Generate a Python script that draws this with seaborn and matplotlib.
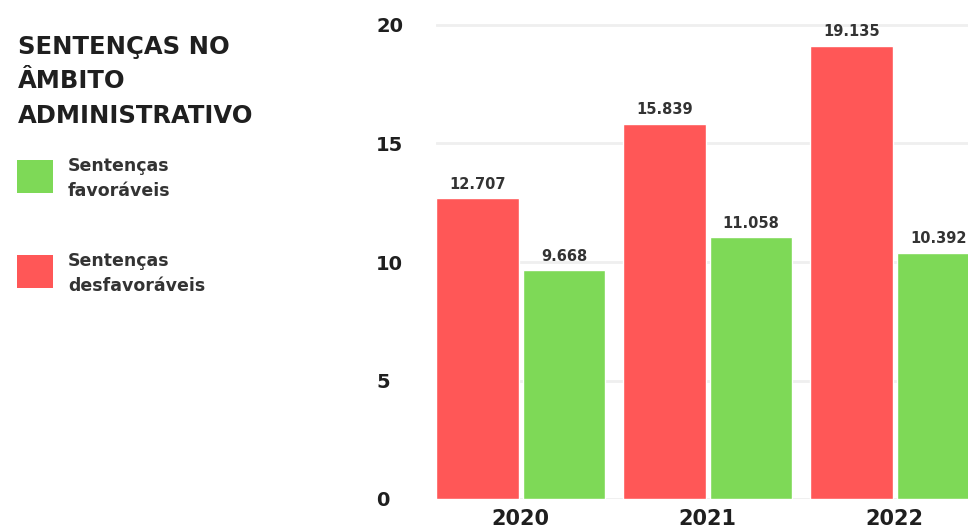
import matplotlib
matplotlib.use("Agg")
import matplotlib.pyplot as plt
from matplotlib.patches import Rectangle
import seaborn as sns
import pandas as pd

# Data (thousands of rulings per year)
anos = ["2020", "2021", "2022"]
desfavoraveis = [12.707, 15.839, 19.135]
favoraveis = [9.668, 11.058, 10.392]
serie_desfav = "Sentenças desfavoráveis"
serie_fav = "Sentenças favoráveis"
yticks = [0, 5, 10, 15, 20]

COR_VERMELHO = "#FF5757"
COR_VERDE = "#7ED957"
TEXTO = "#1f1f1f"

df = pd.DataFrame({
    "ano": anos * 2,
    "valor": desfavoraveis + favoraveis,
    "tipo": [serie_desfav] * len(anos) + [serie_fav] * len(anos),
})

sns.set_theme(style="white")
plt.rcParams["font.family"] = ["DejaVu Sans"]

W, H = 968, 528
fig = plt.figure(figsize=(W / 100, H / 100), dpi=100)
fig.patch.set_facecolor("white")

# Plot area runs past the right edge of the canvas
ax_left, ax_bottom = 436, 499
px_per_unit_y = 23.7
ymax = 20.4
px_per_unit_x = 187
xmin, xmax = -0.453, 2.453
ax = fig.add_axes([ax_left / W, (H - ax_bottom) / H,
                   (xmax - xmin) * px_per_unit_x / W,
                   ymax * px_per_unit_y / H])

sns.barplot(data=df, x="ano", y="valor", hue="tipo",
            hue_order=[serie_desfav, serie_fav],
            palette=[COR_VERMELHO, COR_VERDE], saturation=1,
            width=0.93, gap=0.05, legend=False, ax=ax, zorder=3)

for cont, vals in zip(ax.containers, [desfavoraveis, favoraveis]):
    ax.bar_label(cont, labels=[f"{v:.3f}" for v in vals], padding=4.5,
                 fontsize=10.5, fontweight="bold", color="#333333", zorder=4)

ax.set_xlim(xmin, xmax)
ax.set_ylim(0, ymax)
ax.set_yticks(yticks)
ax.set_yticklabels([str(t) for t in yticks], fontsize=14, fontweight="bold",
                   color=TEXTO)
ax.tick_params(axis="y", length=0, pad=43.2)
for lab in ax.get_yticklabels():
    lab.set_horizontalalignment("left")
ax.tick_params(axis="x", length=0, pad=7.5, labelsize=15, labelcolor=TEXTO)
for lab in ax.get_xticklabels():
    lab.set_fontweight("bold")
ax.set_xlabel("")
ax.set_ylabel("")
for s in ax.spines.values():
    s.set_visible(False)
ax.yaxis.grid(True, color="#efefef", linewidth=2, zorder=0)
ax.set_axisbelow(True)

# Title and legend on the left side
fig.text(18 / W, 1 - 35 / H, "SENTENÇAS NO\nÂMBITO\nADMINISTRATIVO",
         fontsize=17.5, fontweight="bold", color=TEXTO, va="top", ha="left",
         linespacing=1.55)

legenda = [(COR_VERDE, "Sentenças\nfavoráveis", 160),
           (COR_VERMELHO, "Sentenças\ndesfavoráveis", 255)]
for cor, txt, ytop in legenda:
    fig.add_artist(Rectangle((17 / W, 1 - (ytop + 33) / H), 36 / W, 33 / H,
                             transform=fig.transFigure, facecolor=cor,
                             edgecolor="none"))
    fig.text(68 / W, 1 - (ytop - 3) / H, txt, fontsize=12.5,
             fontweight="bold", color="#333333", va="top", ha="left",
             linespacing=1.5)

fig.savefig("out.png", dpi=100, facecolor="white")
